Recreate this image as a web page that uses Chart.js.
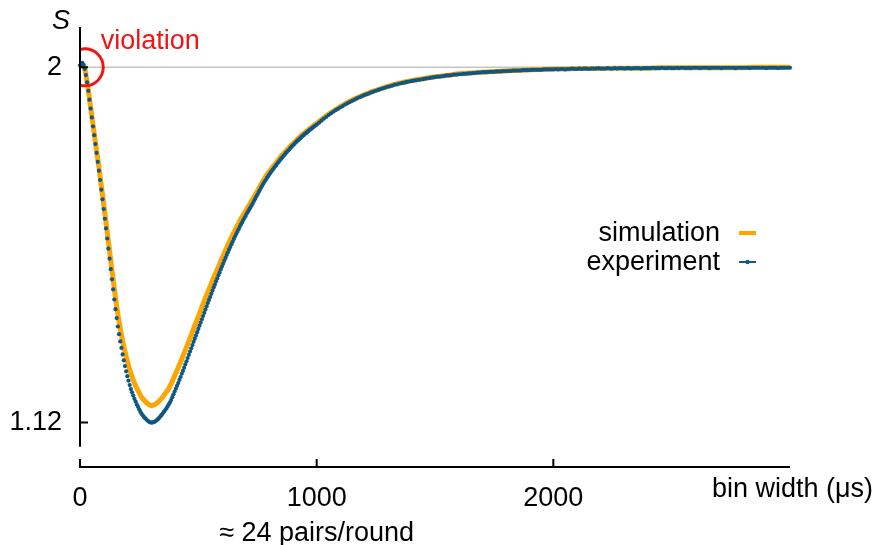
<!DOCTYPE html>
<html>
<head>
<meta charset="utf-8">
<title>CHSH value S versus bin width</title>
<script src="https://cdn.jsdelivr.net/npm/chart.js@4.4.1/dist/chart.umd.min.js"></script>
<style>
  html, body { margin: 0; padding: 0; background: #ffffff; }
  #wrap { width: 875px; height: 545px; }
</style>
</head>
<body>
<div id="wrap"><canvas id="chart" width="875" height="545"></canvas></div>
<script>
// Bin widths (µs) on which S was evaluated.
function range(start, stop, step) {
  const out = [];
  for (let v = start; v <= stop; v += step) out.push(v);
  return out;
}

// Experiment: fine grid up to 1000 µs, coarser afterwards.
const expBinsFine = range(0, 1000, 5);
const expBinsCoarse = range(1010, 3000, 10);

const expFine = [
  2.005, 2.010, 2.011, 2.006, 1.996, 1.981, 1.963, 1.942, 1.920, 1.898,
  1.876, 1.854, 1.832, 1.810, 1.788, 1.766, 1.744, 1.721, 1.697, 1.673,
  1.649, 1.625, 1.601, 1.576, 1.551, 1.526, 1.500, 1.475, 1.450, 1.425,
  1.401, 1.379, 1.358, 1.339, 1.321, 1.305, 1.289, 1.274, 1.260, 1.247,
  1.235, 1.224, 1.213, 1.203, 1.195, 1.187, 1.179, 1.172, 1.165, 1.159,
  1.153, 1.147, 1.142, 1.138, 1.134, 1.131, 1.128, 1.125, 1.123, 1.121,
  1.120, 1.120, 1.121, 1.122, 1.124, 1.126, 1.129, 1.132, 1.136, 1.139,
  1.143, 1.147, 1.151, 1.155, 1.160, 1.165, 1.170, 1.176, 1.183, 1.190,
  1.197, 1.204, 1.211, 1.218, 1.226, 1.233, 1.241, 1.248, 1.256, 1.264,
  1.272, 1.280, 1.288, 1.296, 1.304, 1.312, 1.320, 1.328, 1.336, 1.344,
  1.352, 1.360, 1.368, 1.376, 1.384, 1.392, 1.400, 1.408, 1.416, 1.424,
  1.431, 1.439, 1.447, 1.455, 1.462, 1.470, 1.477, 1.485, 1.492, 1.500,
  1.507, 1.514, 1.521, 1.528, 1.535, 1.542, 1.549, 1.555, 1.562, 1.568,
  1.575, 1.581, 1.587, 1.593, 1.599, 1.605, 1.611, 1.616, 1.622, 1.627,
  1.632, 1.638, 1.643, 1.648, 1.653, 1.658, 1.663, 1.669, 1.674, 1.680,
  1.685, 1.691, 1.696, 1.702, 1.707, 1.712, 1.717, 1.721, 1.726, 1.730,
  1.735, 1.739, 1.743, 1.747, 1.751, 1.755, 1.759, 1.763, 1.766, 1.770,
  1.774, 1.777, 1.781, 1.784, 1.788, 1.791, 1.794, 1.797, 1.801, 1.804,
  1.807, 1.810, 1.813, 1.816, 1.819, 1.821, 1.824, 1.827, 1.830, 1.832,
  1.835, 1.837, 1.840, 1.842, 1.845, 1.847, 1.849, 1.852, 1.854, 1.856,
  1.858
];

const expCoarse = [
  1.863, 1.868, 1.873, 1.877, 1.882, 1.886, 1.890, 1.894, 1.897, 1.901,
  1.904, 1.908, 1.911, 1.914, 1.917, 1.920, 1.923, 1.926, 1.928, 1.931,
  1.933, 1.935, 1.938, 1.940, 1.942, 1.944, 1.946, 1.948, 1.950, 1.952,
  1.953, 1.955, 1.957, 1.958, 1.960, 1.961, 1.962, 1.964, 1.965, 1.966,
  1.967, 1.968, 1.969, 1.970, 1.971, 1.972, 1.973, 1.974, 1.975, 1.976,
  1.977, 1.977, 1.978, 1.979, 1.980, 1.980, 1.981, 1.982, 1.982, 1.983,
  1.983, 1.984, 1.984, 1.985, 1.985, 1.986, 1.986, 1.987, 1.987, 1.988,
  1.988, 1.988, 1.989, 1.989, 1.989, 1.990, 1.990, 1.990, 1.991, 1.991,
  1.991, 1.991, 1.992, 1.992, 1.992, 1.992, 1.993, 1.993, 1.993, 1.993,
  1.994, 1.994, 1.994, 1.994, 1.994, 1.995, 1.995, 1.995, 1.995, 1.995,
  1.996, 1.995, 1.996, 1.996, 1.995, 1.996, 1.996, 1.997, 1.996, 1.996,
  1.997, 1.996, 1.997, 1.997, 1.996, 1.997, 1.997, 1.997, 1.998, 1.997,
  1.997, 1.997, 1.998, 1.997, 1.997, 1.998, 1.997, 1.998, 1.998, 1.997,
  1.998, 1.998, 1.997, 1.998, 1.998, 1.998, 1.997, 1.998, 1.998, 1.998,
  1.998, 1.999, 1.998, 1.998, 1.998, 1.999, 1.998, 1.998, 1.999, 1.998,
  1.998, 1.999, 1.998, 1.999, 1.999, 1.998, 1.999, 1.998, 1.999, 1.999,
  1.999, 1.998, 1.999, 1.999, 1.999, 1.998, 1.999, 1.999, 1.999, 1.999,
  1.998, 1.999, 1.999, 1.999, 1.999, 1.999, 1.998, 1.999, 1.999, 1.999,
  1.999, 1.999, 1.998, 1.999, 1.999, 1.999, 1.999, 1.999, 1.999, 1.998,
  1.999, 1.999, 1.999, 1.999, 1.998, 1.999, 1.999, 1.999, 1.999, 1.999
];

// Simulation: 10 µs steps up to 1000 µs, 50 µs steps afterwards.
const simBinsFine = range(0, 1000, 10);
const simBinsCoarse = range(1050, 3000, 50);

const simFine = [
  2.003, 2.008, 1.997, 1.964, 1.922, 1.879, 1.836, 1.794, 1.752, 1.707,
  1.662, 1.616, 1.569, 1.521, 1.475, 1.430, 1.389, 1.354, 1.323, 1.296,
  1.272, 1.251, 1.234, 1.218, 1.205, 1.194, 1.183, 1.176, 1.170, 1.165,
  1.162, 1.163, 1.166, 1.171, 1.177, 1.184, 1.192, 1.200, 1.210, 1.222,
  1.236, 1.249, 1.263, 1.277, 1.292, 1.307, 1.322, 1.337, 1.353, 1.368,
  1.383, 1.398, 1.414, 1.429, 1.443, 1.457, 1.472, 1.486, 1.499, 1.513,
  1.527, 1.540, 1.554, 1.567, 1.579, 1.591, 1.602, 1.613, 1.625, 1.635,
  1.644, 1.655, 1.664, 1.674, 1.684, 1.694, 1.705, 1.715, 1.725, 1.734,
  1.742, 1.750, 1.757, 1.765, 1.772, 1.780, 1.786, 1.793, 1.799, 1.806,
  1.811, 1.817, 1.823, 1.828, 1.834, 1.838, 1.843, 1.848, 1.852, 1.857,
  1.861
];

const simCoarse = [
  1.884, 1.903, 1.919, 1.932, 1.943, 1.953, 1.961, 1.967, 1.972, 1.977,
  1.980, 1.984, 1.986, 1.988, 1.990, 1.991, 1.993, 1.994, 1.995, 1.996,
  1.996, 1.997, 1.997, 1.997, 1.998, 1.998, 1.998, 1.998, 1.999, 1.999,
  1.999, 1.999, 1.999, 1.999, 1.999, 1.999, 2.000, 2.000, 2.000, 2.000
];

// Axis ticks and the classical (local) bound.
const xTicks = [0, 1000, 2000];
const yTicks = [2, 1.12];
const classicalBound = 2;
const xRange = [0, 3000];
const yRange = [1.01, 2.1];
const yAxisFoot = 1.06;      // where the drawn S axis stops
const violationAt = 20;      // bin width marked as violating the bound

const seriesLabels = ['simulation', 'experiment'];
const colors = { sim: '#ffa500', exp: '#0f5785', bound: '#c4c4c4', mark: '#f01414' };

function pairs(xs, ys) { return xs.map((v, i) => ({ x: v, y: ys[i] })); }

const simPoints = pairs(simBinsFine, simFine).concat(pairs(simBinsCoarse, simCoarse));
const expPoints = pairs(expBinsFine, expFine).concat(pairs(expBinsCoarse, expCoarse));

const FONT = "'Liberation Sans', Arial, Helvetica, sans-serif";
const FONT_SIZE = 27;

// Axes, annotation circle, legend and captions.
const decorations = {
  id: 'decorations',
  afterDatasetsDraw(chart) {
    const { ctx, chartArea: a, scales: { x, y } } = chart;
    ctx.save();

    // the S axis and the bin-width axis, offset from each other
    ctx.strokeStyle = '#000';
    ctx.lineWidth = 2;
    ctx.beginPath();
    ctx.moveTo(a.left, a.top);
    ctx.lineTo(a.left, y.getPixelForValue(yAxisFoot));
    ctx.moveTo(a.left - 1, a.bottom);
    ctx.lineTo(a.right, a.bottom);
    yTicks.forEach(v => {
      const p = y.getPixelForValue(v);
      ctx.moveTo(a.left, p); ctx.lineTo(a.left + 8, p);
    });
    xTicks.forEach(v => {
      const p = x.getPixelForValue(v);
      ctx.moveTo(p, a.bottom); ctx.lineTo(p, a.bottom - 8);
    });
    ctx.stroke();

    // circle around the violation of the bound
    const cx = x.getPixelForValue(violationAt);
    const cy = y.getPixelForValue(classicalBound);
    ctx.save();
    ctx.beginPath();
    ctx.rect(a.left + 1, 0, chart.width, chart.height);
    ctx.clip();
    ctx.strokeStyle = colors.mark;
    ctx.lineWidth = 3;
    ctx.beginPath();
    ctx.arc(cx, cy, 18.5, 0, Math.PI * 2);
    ctx.stroke();
    ctx.restore();

    ctx.fillStyle = colors.mark;
    ctx.font = FONT_SIZE + 'px ' + FONT;
    ctx.textAlign = 'left';
    ctx.textBaseline = 'alphabetic';
    ctx.fillText('violation', cx + 16, cy - 18);

    // axis names
    ctx.fillStyle = '#000';
    ctx.font = 'italic ' + FONT_SIZE + 'px ' + FONT;
    ctx.textAlign = 'center';
    ctx.fillText('S', a.left - 19, a.top + 2);

    ctx.font = FONT_SIZE + 'px ' + FONT;
    ctx.textAlign = 'right';
    ctx.fillText('bin width (\u03bcs)', chart.width - 2, a.bottom + 30);

    ctx.textAlign = 'center';
    ctx.fillText('\u2248 24 pairs/round', x.getPixelForValue(1000), a.bottom + 74);

    // legend
    const lx = a.right - 70;
    const rows = [a.top + 214, a.top + 243];
    ctx.textAlign = 'right';
    ctx.fillText(seriesLabels[0], lx, rows[0]);
    ctx.fillText(seriesLabels[1], lx, rows[1]);

    ctx.strokeStyle = colors.sim;
    ctx.lineWidth = 4;
    ctx.beginPath();
    ctx.moveTo(lx + 19, rows[0] - 8); ctx.lineTo(lx + 36, rows[0] - 8);
    ctx.stroke();

    ctx.strokeStyle = colors.exp;
    ctx.lineWidth = 2;
    ctx.beginPath();
    ctx.moveTo(lx + 19, rows[1] - 8); ctx.lineTo(lx + 36, rows[1] - 8);
    ctx.stroke();
    ctx.fillStyle = colors.exp;
    ctx.beginPath();
    ctx.arc(lx + 27.5, rows[1] - 8, 2.2, 0, Math.PI * 2);
    ctx.fill();

    ctx.restore();
  }
};

Chart.defaults.font.family = FONT;
Chart.defaults.font.size = FONT_SIZE;
Chart.defaults.color = '#000';

new Chart(document.getElementById('chart'), {
  type: 'scatter',
  data: {
    datasets: [
      {
        label: 'bound',
        data: [{ x: xRange[0], y: classicalBound }, { x: xRange[1], y: classicalBound }],
        showLine: true,
        borderColor: colors.bound,
        borderWidth: 1.5,
        pointRadius: 0,
        order: 3
      },
      {
        label: seriesLabels[0],
        data: simPoints,
        showLine: true,
        borderColor: colors.sim,
        borderWidth: 5,
        pointRadius: 0,
        cubicInterpolationMode: 'monotone',
        clip: false,
        order: 2
      },
      {
        label: seriesLabels[1],
        data: expPoints,
        showLine: false,
        pointRadius: 2.1,
        pointBorderWidth: 0,
        pointBackgroundColor: colors.exp,
        clip: false,
        order: 1
      }
    ]
  },
  options: {
    responsive: false,
    devicePixelRatio: 1,
    animation: false,
    events: [],
    layout: { padding: { top: 27, right: 85, bottom: 0, left: 0 } },
    plugins: { legend: { display: false }, tooltip: { enabled: false } },
    scales: {
      x: {
        type: 'linear',
        min: xRange[0],
        max: xRange[1],
        grid: { display: false, drawTicks: false },
        border: { display: false },
        afterBuildTicks: s => { s.ticks = xTicks.map(v => ({ value: v })); },
        afterFit: s => { s.height = 78; s.paddingLeft = 0; s.paddingRight = 0; },
        ticks: { padding: 15, maxRotation: 0, callback: v => String(v) }
      },
      y: {
        type: 'linear',
        min: yRange[0],
        max: yRange[1],
        grid: { display: false, drawTicks: false },
        border: { display: false },
        afterBuildTicks: s => { s.ticks = yTicks.map(v => ({ value: v })); },
        afterFit: s => { s.width = 80; s.paddingTop = 0; s.paddingBottom = 0; },
        ticks: { padding: 18, callback: v => String(+v.toFixed(2)) }
      }
    }
  },
  plugins: [decorations]
});
</script>
</body>
</html>
